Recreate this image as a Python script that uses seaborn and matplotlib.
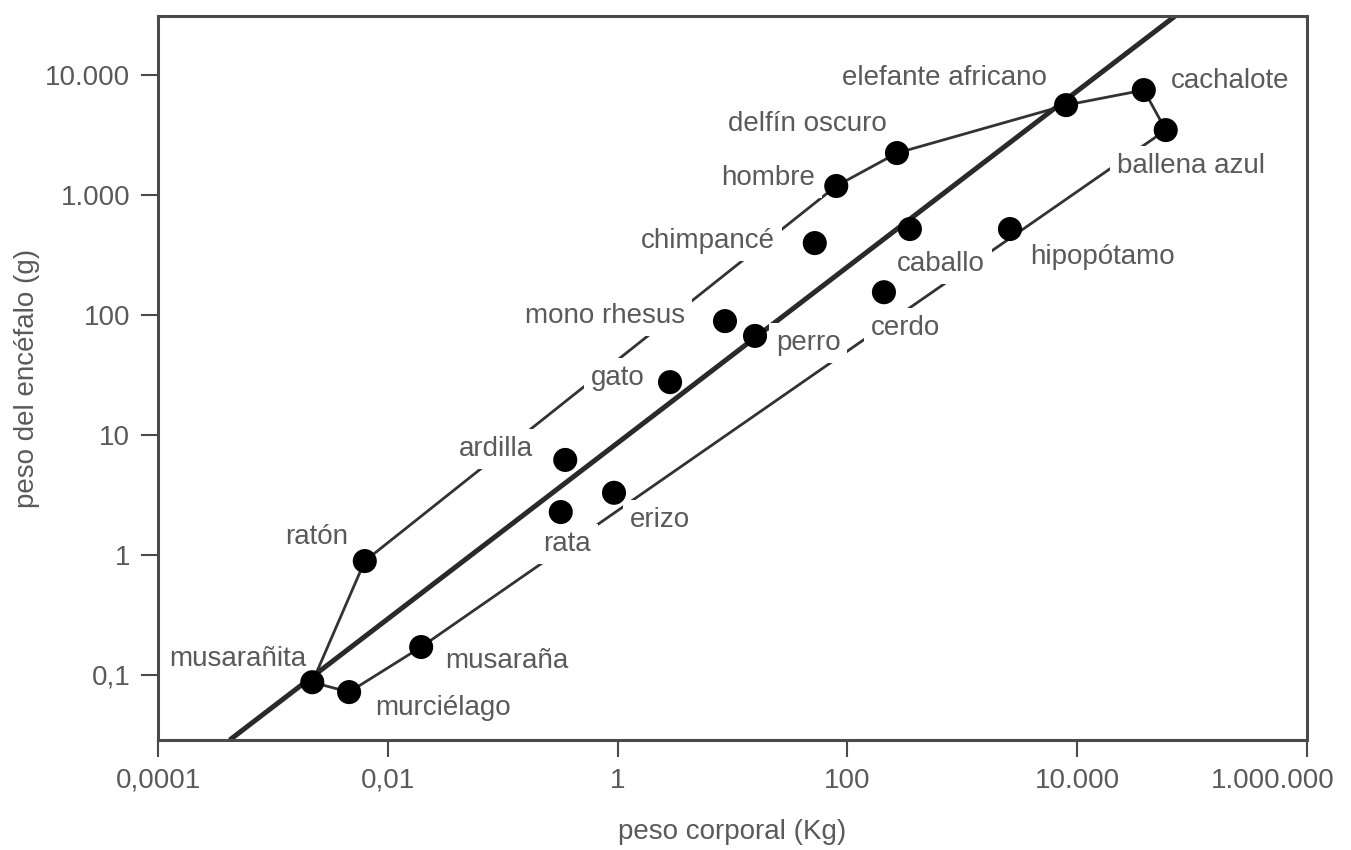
import numpy as np
import pandas as pd
import seaborn as sns
import matplotlib.pyplot as plt
from matplotlib.ticker import FixedLocator, FixedFormatter, NullLocator
from matplotlib.transforms import ScaledTranslation

# Datos (peso corporal en kg, peso del encefalo en g)
especies = ['musarañita', 'murciélago', 'musaraña', 'ratón', 'rata', 'ardilla',
            'erizo', 'gato', 'mono rhesus', 'perro', 'chimpancé', 'hombre',
            'delfín oscuro', 'caballo', 'cerdo', 'hipopótamo',
            'elefante africano', 'cachalote', 'ballena azul']
peso_corporal = [0.0022, 0.0046, 0.0195, 0.0063, 0.32, 0.35,
                 0.93, 2.86, 8.6, 15.7, 52, 80,
                 270, 350, 208, 2600,
                 8000, 38000, 59000]
peso_encefalo = [0.087, 0.072, 0.171, 0.89, 2.28, 6.2,
                 3.3, 27.6, 89, 67, 398, 1190,
                 2240, 521, 155, 521,
                 5620, 7500, 3480]

# poligono que envuelve a todas las especies
contorno = ['musarañita', 'ratón', 'hombre', 'delfín oscuro', 'elefante africano',
            'cachalote', 'ballena azul', 'musaraña', 'murciélago', 'musarañita']

# recta de ajuste (extremos)
recta_x = [0.00042, 71000]
recta_y = [0.0287, 31000]

ticks_x = [0.0001, 0.01, 1, 100, 10000, 1000000]
etiquetas_x = ['0,0001', '0,01', '1', '100', '10.000', '1.000.000']
ticks_y = [0.1, 1, 10, 100, 1000, 10000]
etiquetas_y = ['0,1', '1', '10', '100', '1.000', '10.000']

df = pd.DataFrame({'especie': especies, 'cuerpo': peso_corporal, 'encefalo': peso_encefalo})

# desplazamiento de cada etiqueta respecto a su punto (pixeles)
desplaz = {
    'musarañita': (-75, 23), 'murciélago': (94, -16), 'musaraña': (86, -14),
    'ratón': (-48, 24), 'rata': (6, -32), 'ardilla': (-69, 11),
    'erizo': (46, -27), 'gato': (-52, 4), 'mono rhesus': (-120, 5),
    'perro': (53, -7), 'chimpancé': (-107, 2), 'hombre': (-68, 8),
    'delfín oscuro': (-90, 29), 'caballo': (31, -35), 'cerdo': (22, -36),
    'hipopótamo': (92, -28), 'elefante africano': (-122, 27),
    'cachalote': (86, 9), 'ballena azul': (25, -36),
}

sns.set_theme(style='ticks')
plt.rcParams['font.family'] = ['Liberation Sans', 'DejaVu Sans']

gris = '#4a4a4a'
texto = '#5a5a5a'
fig = plt.figure(figsize=(13.51, 8.5), dpi=100)
ax = fig.add_axes([0.117, 0.1294, 0.8504, 0.8516])

ax.set_xscale('log')
ax.set_yscale('log')

# recta de ajuste
ax.plot(recta_x, recta_y, color='#2a2a2a', lw=3.6, zorder=2, solid_capstyle='butt')

# contorno
idx = df.set_index('especie')
ax.plot(idx.loc[contorno, 'cuerpo'], idx.loc[contorno, 'encefalo'],
        color='#333333', lw=2.0, zorder=1)

sns.scatterplot(data=df, x='cuerpo', y='encefalo', ax=ax, s=300, color='black',
                edgecolor='none', zorder=5, legend=False)

for _, fila in df.iterrows():
    dx, dy = desplaz[fila['especie']]
    ax.annotate(fila['especie'], (fila['cuerpo'], fila['encefalo']),
                xytext=(dx, dy), textcoords='offset pixels',
                ha='center', va='center', fontsize=20, color=texto, zorder=4,
                bbox=dict(boxstyle='square,pad=0.25', fc='white', ec='none'))

ax.set_xlim(0.0001, 1000000)
ax.set_ylim(0.0287, 31000)

ax.xaxis.set_major_locator(FixedLocator(ticks_x))
ax.xaxis.set_major_formatter(FixedFormatter(etiquetas_x))
ax.yaxis.set_major_locator(FixedLocator(ticks_y))
ax.yaxis.set_major_formatter(FixedFormatter(etiquetas_y))
ax.xaxis.set_minor_locator(NullLocator())
ax.yaxis.set_minor_locator(NullLocator())

ax.tick_params(axis='both', direction='out', length=12, width=1.5, color=gris,
               labelsize=20, labelcolor=texto, pad=8)
for lado in ['top', 'right', 'bottom', 'left']:
    ax.spines[lado].set_visible(True)
    ax.spines[lado].set_color(gris)
    ax.spines[lado].set_linewidth(2.2)

ax.set_xlabel('peso corporal (Kg)', fontsize=20, color=texto, labelpad=18)
ax.set_ylabel('peso del encéfalo (g)', fontsize=20, color=texto, labelpad=4)

# la ultima etiqueta del eje x se corre a la izquierda para que quepa
fig.canvas.draw()
ultima = ax.xaxis.get_major_ticks()[-1].label1
ultima.set_transform(ultima.get_transform() + ScaledTranslation(-0.34, 0, fig.dpi_scale_trans))

fig.savefig('out.png', dpi=100)
